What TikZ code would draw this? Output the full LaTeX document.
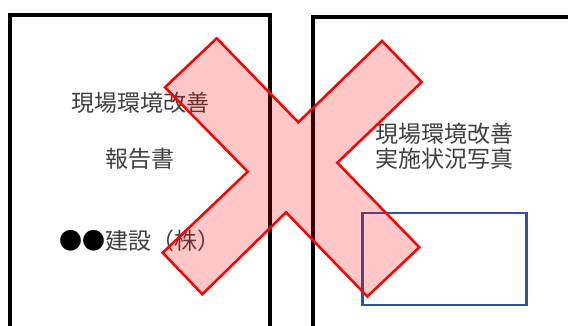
\documentclass[tikz,border=0pt]{standalone}
\usepackage{fontspec}
\newfontfamily\jpfont{Noto Sans CJK JP}
\definecolor{crossred}{RGB}{255,0,0}
\definecolor{photoblue}{RGB}{47,85,151}
\definecolor{txt}{RGB}{64,64,64}
\begin{document}
\begin{tikzpicture}[x=1pt,y=-1pt,
  page/.style={draw=black,line width=4pt},
  label/.style={font=\jpfont\fontsize{23}{25}\selectfont,text=txt,inner sep=0pt,align=left},
  photobox/.style={draw=photoblue,line width=2.2pt,minimum width=164pt,minimum height=92pt,inner sep=0pt},
  cross/.style={draw=crossred,line width=2.5pt,fill=crossred,fill opacity=0.22,line join=miter}]
\useasboundingbox (0,0) rectangle (568,325);
\clip (0,0) rectangle (568,325);
\fill[white] (0,0) rectangle (568,325);
% pages
\draw[page] (10,335) -- (10,15) -- (270,15) -- (270,335);
\draw[page] (313,335) -- (313,17) -- (580,17) ;
% texts
\node[label] (t1) at (140,103) {現場環境改善};
\node[label] (t2) at (140,159) {報告書};
\node[label] (t3) at (140,241) {\textcolor{black}{●●}建設（株）};
\node[label] (t4) at (444,146) {現場環境改善\\実施状況写真};
% photo box
\node[photobox] (photo) at (444.5,259) {};
% cross
\draw[cross] (216.7,38.3) -- (298.3,122.3) -- (382,41) -- (421.7,82) -- (337.3,162.7)
  -- (419.3,247.3) -- (367.3,296.5) -- (286,212.3) -- (202.3,294.3) -- (162.7,252.7)
  -- (247.7,171.7) -- (165,87.3) -- cycle;
\end{tikzpicture}
\end{document}
